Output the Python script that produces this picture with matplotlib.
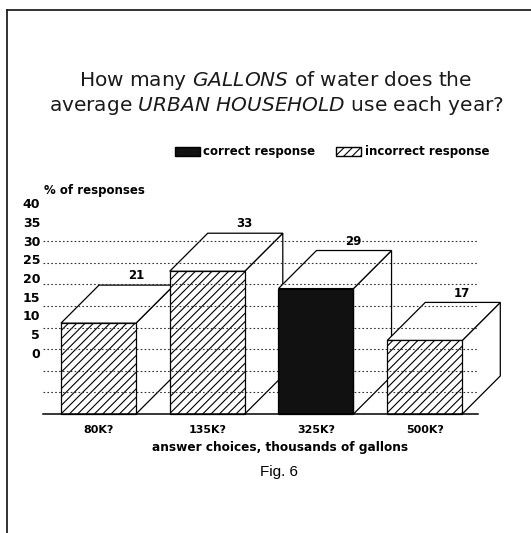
import numpy as np
import matplotlib.pyplot as plt
from matplotlib.patches import Rectangle, Polygon, Patch
from matplotlib.lines import Line2D

plt.rcParams['font.family'] = 'DejaVu Sans'
plt.rcParams['mathtext.fontset'] = 'custom'
plt.rcParams['mathtext.rm'] = 'DejaVu Sans'
plt.rcParams['mathtext.it'] = 'DejaVu Sans:italic'
plt.rcParams['hatch.linewidth'] = 0.8

# Datos
categories = ['80K?', '135K?', '325K?', '500K?']
values = [21, 33, 29, 17]
correct = [False, False, True, False]  # 325K es la respuesta correcta
grid_vals = [5, 10, 15, 20, 25, 30, 35, 40]
tick_vals = [0, 5, 10, 15, 20, 25, 30, 35, 40]

W, H = 531, 533
fig = plt.figure(figsize=(W/100, H/100), dpi=100)

# marco del escaneo
fig.add_artist(Line2D([7/W, 1], [1-9.5/H, 1-9.5/H], color='#222222', lw=1.3))
fig.add_artist(Line2D([7/W, 7/W], [0, 1-9.5/H], color='#222222', lw=1.3))

# ejes principales: y=0 en px 414, y=40 en px 241
ax = fig.add_axes([43/W, (H-414)/H, 435/W, 173/H])
ax.set_xlim(-0.51, 3.49)
ax.set_ylim(0, 40)
for s in ax.spines.values():
    s.set_visible(False)
ax.set_yticks([])

w = 0.69  # ancho de la barra
dx = 0.35  # profundidad en x
dy = 8.8  # profundidad en y

for i, (v, ok) in enumerate(zip(values, correct)):
    z = 1 + i*0.1
    left = i - w/2
    r = i + w/2
    side = Polygon([(r, 0), (r+dx, dy), (r+dx, v+dy), (r, v)], closed=True,
                   facecolor='white', edgecolor='black', lw=0.9, zorder=z, clip_on=False)
    top = Polygon([(left, v), (left+dx, v+dy), (r+dx, v+dy), (r, v)], closed=True,
                  facecolor='white', edgecolor='black', lw=0.9, zorder=z, clip_on=False)
    ax.add_patch(side)
    ax.add_patch(top)
    if ok:
        front = Rectangle((left, 0), w, v, facecolor='#111111', edgecolor='black',
                          lw=0.9, zorder=6, clip_on=False)
    else:
        front = Rectangle((left, 0), w, v, facecolor='white', edgecolor='black',
                          hatch='////', lw=0.9, zorder=z, clip_on=False)
    ax.add_patch(front)
    ax.annotate(str(v), (r, v+dy), xytext=(0, 2), textcoords='offset points',
                ha='center', va='bottom', fontsize=8.5, fontweight='bold', zorder=7,
                annotation_clip=False)

# lineas punteadas y base
ax.hlines(grid_vals, -0.51, 3.49, colors='#333333', lw=0.8,
          linestyles=(0, (1.5, 2)), zorder=5, clip_on=False)
ax.axhline(0, color='black', lw=1.1, zorder=7, clip_on=False)

ax.set_xticks(range(len(categories)))
ax.set_xticklabels(categories, fontsize=8, fontweight='bold')
ax.tick_params(axis='x', length=0, pad=8)

# etiquetas del eje y (corridas en el original)
ax_lab = fig.add_axes([43/W, (H-353)/H, 0.001, 150/H])
ax_lab.set_ylim(0, 40)
ax_lab.set_xticks([])
ax_lab.set_yticks(tick_vals)
ax_lab.set_yticklabels([str(t) for t in tick_vals], fontsize=9, fontweight='bold')
ax_lab.tick_params(axis='y', length=0, pad=2)
for s in ax_lab.spines.values():
    s.set_visible(False)
ax_lab.patch.set_visible(False)

fig.text(44/W, 1-190/H, '% of responses', fontsize=8.5, fontweight='bold', va='center')

# titulo
fig.text(276/W, 1-93/H,
         'How many $\\mathit{GALLONS}$ of water does the\n'
         'average $\\mathit{URBAN}$ $\\mathit{HOUSEHOLD}$ use each year?',
         fontsize=14.5, ha='center', va='center',
         linespacing=1.1, color='#1a1a1a')

# leyenda
handles = [Patch(facecolor='#111111', edgecolor='black', label='correct response'),
           Patch(facecolor='white', edgecolor='black', hatch='////', label='incorrect response')]
fig.legend(handles=handles, loc='center', bbox_to_anchor=(332/W, 1-152/H), ncol=2,
           frameon=False, prop={'size': 8.5, 'weight': 'bold'}, handlelength=2.1,
           handleheight=0.7, handletextpad=0.3, columnspacing=1.8, borderpad=0)

fig.text(280/W, 1-448/H, 'answer choices, thousands of gallons', fontsize=8.7,
         fontweight='bold', ha='center', va='center')
fig.text(279/W, 1-472/H, 'Fig. 6', fontsize=11, family='Liberation Sans',
         ha='center', va='center')

plt.savefig('out.png', dpi=100)
